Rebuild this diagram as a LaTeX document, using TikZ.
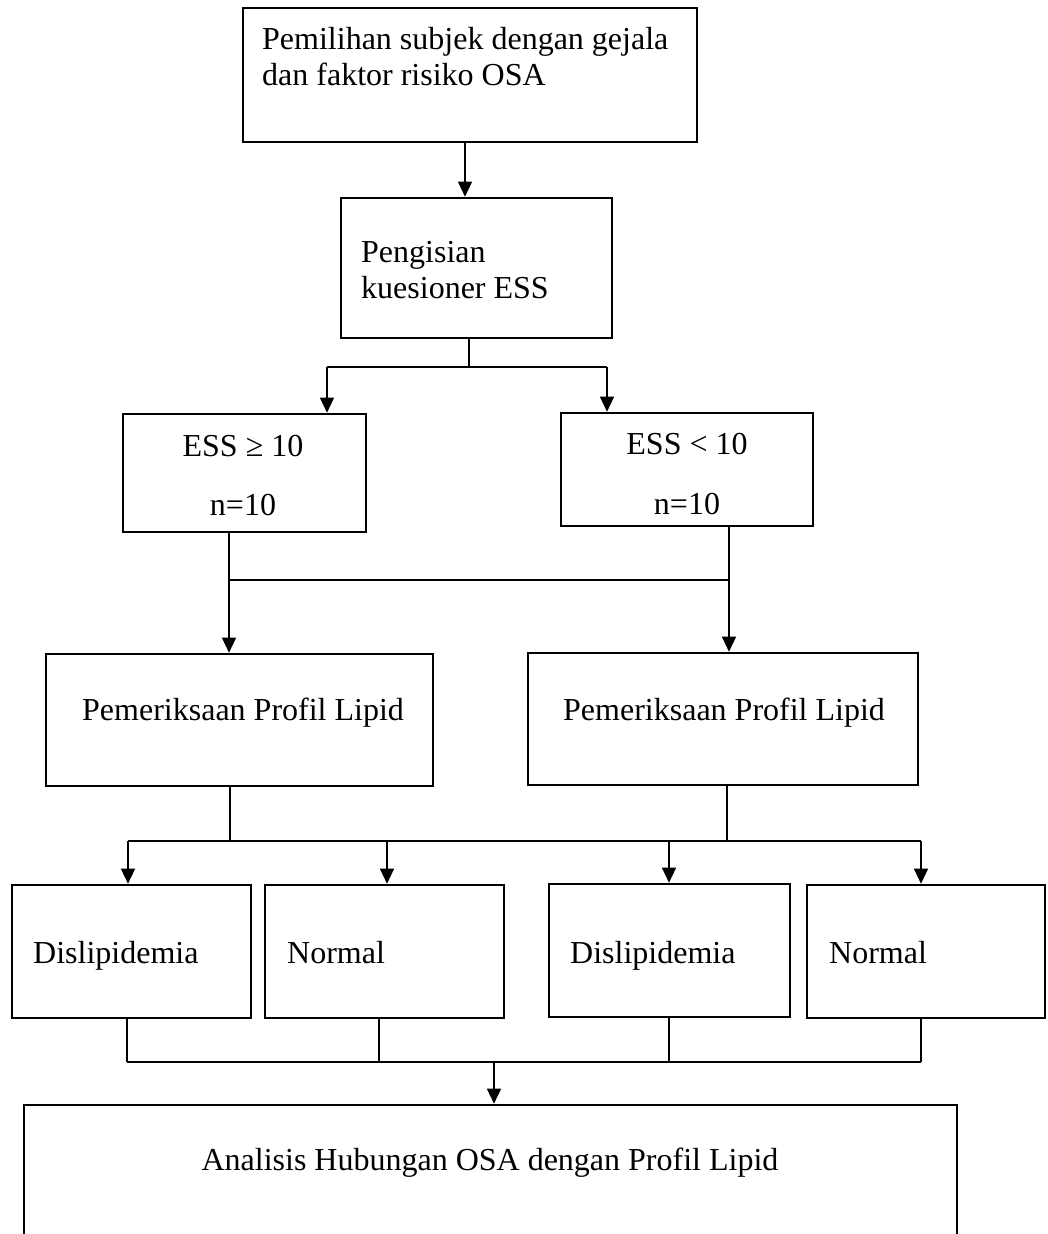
\documentclass[tikz,border=0pt]{standalone}
\usepackage{fontspec}
\setmainfont{Liberation Serif}
\usetikzlibrary{arrows.meta}
\begin{document}
\begin{tikzpicture}[x=1pt,y=-1pt,
  box/.style={draw,line width=2.6pt,rectangle,inner sep=0pt},
  conn/.style={line width=1.3pt},
  arr/.style={conn,-{Triangle[length=15pt,width=14pt]}},
  txt/.style={inner sep=0pt,font=\fontsize{32}{38}\selectfont}]
\useasboundingbox (0,0) rectangle (1048,1234);
\clip (0,0) rectangle (1048,1234);

% boxes
\node[box,minimum width=454pt,minimum height=134pt] (b1) at (470,75) {};
\node[box,minimum width=271pt,minimum height=140pt] (b2) at (476.5,268) {};
\node[box,minimum width=243pt,minimum height=118pt] (b3) at (244.5,473) {};
\node[box,minimum width=252pt,minimum height=113pt] (b4) at (687,469.5) {};
\node[box,minimum width=387pt,minimum height=132pt] (b5) at (239.5,720) {};
\node[box,minimum width=390pt,minimum height=132pt] (b6) at (723,719) {};
\node[box,minimum width=239pt,minimum height=133pt] (b7) at (131.5,951.5) {};
\node[box,minimum width=239pt,minimum height=133pt] (b8) at (384.5,951.5) {};
\node[box,minimum width=241pt,minimum height=133pt] (b9) at (669.5,950.5) {};
\node[box,minimum width=238pt,minimum height=133pt] (b10) at (926,951.5) {};
\node[box,minimum width=933pt,minimum height=155pt] (b11) at (490.5,1182.5) {};

% texts
\node[txt,anchor=base west] (t1a) at (262,49) {Pemilihan subjek dengan gejala};
\node[txt,anchor=base west] (t1b) at (262,85) {dan faktor risiko OSA};
\node[txt,anchor=base west] (t2a) at (361,262) {Pengisian};
\node[txt,anchor=base west] (t2b) at (361,298) {kuesioner ESS};
\node[txt,anchor=base] (t3a) at (243,456) {ESS ≥ 10};
\node[txt,anchor=base] (t3b) at (243,515) {n=10};
\node[txt,anchor=base] (t4a) at (687,454) {ESS < 10};
\node[txt,anchor=base] (t4b) at (687,514) {n=10};
\node[txt,anchor=base west] (t5) at (82,720) {Pemeriksaan Profil Lipid};
\node[txt,anchor=base west] (t6) at (563,720) {Pemeriksaan Profil Lipid};
\node[txt,anchor=base west] (t7) at (33,963) {Dislipidemia};
\node[txt,anchor=base west] (t8) at (287,963) {Normal};
\node[txt,anchor=base west] (t9) at (570,963) {Dislipidemia};
\node[txt,anchor=base west] (t10) at (829,963) {Normal};
\node[txt,anchor=base] (t11) at (490,1170) {Analisis Hubungan OSA dengan Profil Lipid};

% b1 -> b2
\coordinate (a0) at (465,0);
\draw[arr] (b1.south -| a0) -- (b2.north -| a0);

% b2 -> b3, b4
\coordinate (j1) at (469,367);
\coordinate (l1) at (327,367);
\coordinate (r1) at (607,367);
\draw[conn] (b2.south -| j1) -- (j1);
\draw[conn] (l1) -- (r1);
\draw[arr] (l1) -- (l1 |- b3.north);
\draw[arr] (r1) -- (r1 |- b4.north);

% b3 -> b5, b4 -> b6
\coordinate (m1) at (229,580);
\coordinate (m2) at (729,580);
\draw[arr] (b3.south -| m1) -- (b5.north -| m1);
\draw[arr] (b4.south -| m2) -- (b6.north -| m2);
\draw[conn] (m1) -- (m2);

% b5, b6 -> b7..b10
\coordinate (k5) at (230,841);
\coordinate (k6) at (727,841);
\coordinate (f1) at (128,841);
\coordinate (f2) at (387,841);
\coordinate (f3) at (669,841);
\coordinate (f4) at (921,841);
\draw[conn] (b5.south -| k5) -- (k5);
\draw[conn] (b6.south -| k6) -- (k6);
\draw[conn] (f1) -- (f4);
\draw[arr] (f1) -- (f1 |- b7.north);
\draw[arr] (f2) -- (f2 |- b8.north);
\draw[arr] (f3) -- (f3 |- b9.north);
\draw[arr] (f4) -- (f4 |- b10.north);

% b7..b10 -> b11
\coordinate (g1) at (127,1062);
\coordinate (g2) at (379,1062);
\coordinate (g3) at (669,1062);
\coordinate (g4) at (921,1062);
\coordinate (g0) at (494,1062);
\draw[conn] (b7.south -| g1) -- (g1);
\draw[conn] (b8.south -| g2) -- (g2);
\draw[conn] (b9.south -| g3) -- (g3);
\draw[conn] (b10.south -| g4) -- (g4);
\draw[conn] (g1) -- (g4);
\draw[arr] (g0) -- (g0 |- b11.north);
\end{tikzpicture}
\end{document}
